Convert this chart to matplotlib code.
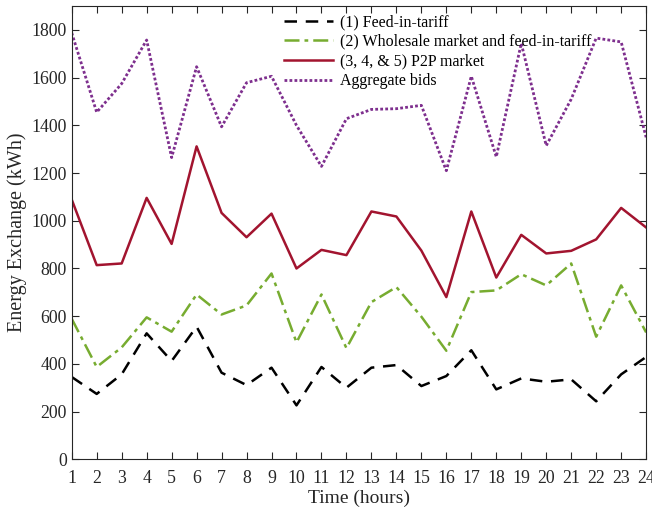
import matplotlib
matplotlib.use("Agg")
from matplotlib import pyplot as plt

plt.rcParams['font.family'] = ['Liberation Serif', 'DejaVu Serif']

hours = list(range(1, 25))
feed_in = [345, 274, 356, 528, 412, 556, 363, 311, 384, 226, 387, 300,
           384, 395, 307, 349, 457, 293, 339, 325, 335, 243, 356, 429]
wholesale = [589, 387, 469, 595, 535, 691, 607, 645, 779, 490, 691, 466,
             659, 722, 598, 455, 701, 708, 776, 729, 821, 514, 729, 532]
p2p = [1089, 814, 821, 1096, 903, 1312, 1033, 931, 1030, 800, 878, 856,
       1039, 1018, 875, 680, 1039, 762, 941, 863, 874, 922, 1054, 972]
aggregate = [1788, 1455, 1575, 1758, 1265, 1646, 1394, 1579, 1606, 1400, 1228, 1428,
             1467, 1470, 1484, 1210, 1606, 1268, 1744, 1315, 1510, 1766, 1750, 1350]

labels = ["(1) Feed-in-tariff",
          "(2) Wholesale market and feed-in-tariff",
          "(3, 4, & 5) P2P market",
          "Aggregate bids"]

fig = plt.figure(figsize=(6.52, 5.12), dpi=100)
ax = fig.add_axes([0.110, 0.103, 0.881, 0.885])

ax.plot(hours, feed_in, color='black', linestyle=(0, (5, 3.5)), linewidth=1.8, label=labels[0])
ax.plot(hours, wholesale, color='#77AC30', linestyle=(0, (6, 2, 1.5, 2)), linewidth=1.8, label=labels[1])
ax.plot(hours, p2p, color='#A2142F', linestyle='-', linewidth=1.8, label=labels[2])
ax.plot(hours, aggregate, color='#7E2F8E', linestyle=(0, (1, 0.8)), linewidth=2.0, label=labels[3])

ax.set_xlim(1, 24)
ax.set_ylim(0, 1900)
ax.set_xticks(hours)
ax.set_yticks(range(0, 1801, 200))
ax.tick_params(direction='in', top=True, right=True, labelsize=12.8,
               colors='#262626', length=5, width=0.8)
ax.tick_params(axis='x', pad=7.8)
for s in ax.spines.values():
    s.set_color('#262626')
    s.set_linewidth(0.8)

ax.set_xlabel("Time (hours)", fontsize=14, color='#262626', labelpad=2)
ax.set_ylabel("Energy Exchange (kWh)", fontsize=14.5, color='#262626', labelpad=3)

leg = ax.legend(loc='upper left', bbox_to_anchor=(0.355, 1.0), frameon=False,
                fontsize=11.5, handlelength=3.1, handletextpad=0.45,
                labelspacing=0.23, borderaxespad=0.1)

fig.savefig("out.png", dpi=100)
plt.close(fig)
